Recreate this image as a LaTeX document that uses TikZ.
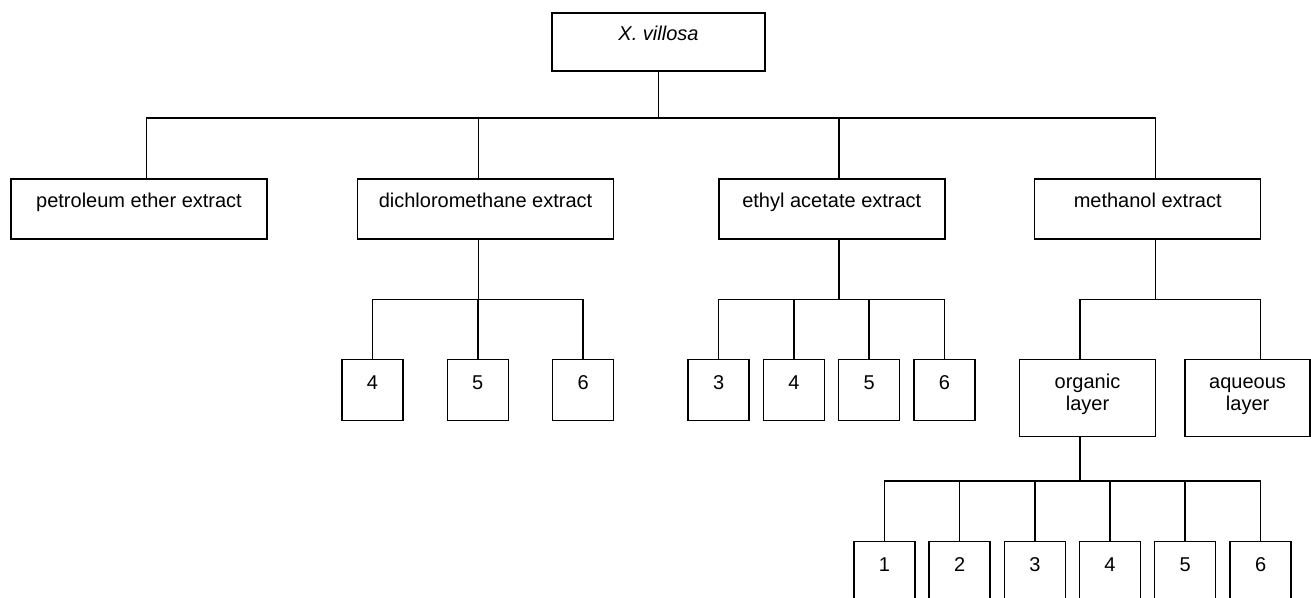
\documentclass[tikz,border=0pt]{standalone}
\usepackage{fontspec}
\setmainfont{Liberation Sans}
\usepackage{tikz}
\usetikzlibrary{positioning}
\tikzset{
    caja/.style={
        draw,
        line width=1.5pt,
        inner sep=0pt,
        minimum width=256pt,
        text height=28.3pt,
        text depth=31.7pt,
        font=\fontsize{20}{22.4}\selectfont
    },
    raizbox/.style={
        caja,
        minimum width=213pt,
        text height=27pt,
        text depth=31pt
    },
    capa/.style={
        caja,
        align=center,
        text height=51.4pt,
        text depth=25.6pt
    },
    fraccion/.style={
        caja,
        minimum width=61pt,
        text height=29.7pt,
        text depth=31.3pt
    },
    rama/.style={
        line width=1.5pt
    }
}

\begin{document}
\begin{tikzpicture}[
    x=1pt,
    y=-1pt
]
    \useasboundingbox (0,0) rectangle (1311,597);
    \clip (0,0) rectangle (1311,597);

    % Planta
    \node[raizbox] (raiz) at (658.5,42) {\textit{X. villosa}};

    % Extractos
    \node[caja]                   (eter) at (139,209)    {petroleum ether extract};
    \node[caja]                   (dcm)  at (485.5,209)  {dichloromethane extract};
    \node[caja, minimum width=226pt] (aet)  at (831.8,209)  {ethyl acetate extract};
    \node[caja, minimum width=226pt] (met)  at (1147.7,209) {methanol extract};

    % Fracciones del extracto de diclorometano
    \node[fraccion] (d4) at (372.5,389.8) {4};
    \node[fraccion] (d5) at (477.8,389.8) {5};
    \node[fraccion] (d6) at (583.2,389.8) {6};

    % Fracciones del extracto de acetato de etilo
    \node[fraccion] (a3) at (718.7,389.8) {3};
    \node[fraccion] (a4) at (794,389.8)   {4};
    \node[fraccion] (a5) at (869.2,389.8) {5};
    \node[fraccion] (a6) at (944.5,389.8) {6};

    % Capas del extracto de metanol
    \node[capa, minimum width=136pt] (org) at (1087.5,397.8) {organic\\layer};
    \node[capa, minimum width=125pt] (acu) at (1247.6,397.8) {aqueous\\layer};

    % Fracciones de la capa organica
    \node[fraccion] (o1) at (884.4,572.2)  {1};
    \node[fraccion] (o2) at (959.7,572.2)  {2};
    \node[fraccion] (o3) at (1035,572.2)   {3};
    \node[fraccion] (o4) at (1110,572.2)   {4};
    \node[fraccion] (o5) at (1185.2,572.2) {5};
    \node[fraccion] (o6) at (1260.7,572.2) {6};

    % Ramas
    \draw[rama] (raiz.south) -- ++(0,46) -| ([xshift=7.7]eter.north);
    \draw[rama] (raiz.south) -- ++(0,46) -| ([xshift=-7.2]dcm.north);
    \draw[rama] (raiz.south) -- ++(0,46) -| ([xshift=7.2]aet.north);
    \draw[rama] (raiz.south) -- ++(0,46) -| ([xshift=7.6]met.north);

    \draw[rama] ([xshift=-7.2]dcm.south) -- ++(0,59.5) -| (d4.north);
    \draw[rama] ([xshift=-7.2]dcm.south) -- ++(0,59.5) -| (d5.north);
    \draw[rama] ([xshift=-7.2]dcm.south) -- ++(0,59.5) -| (d6.north);

    \draw[rama] ([xshift=7.2]aet.south) -- ++(0,59.5) -| (a3.north);
    \draw[rama] ([xshift=7.2]aet.south) -- ++(0,59.5) -| (a4.north);
    \draw[rama] ([xshift=7.2]aet.south) -- ++(0,59.5) -| (a5.north);
    \draw[rama] ([xshift=7.2]aet.south) -- ++(0,59.5) -| (a6.north);

    \draw[rama] ([xshift=7.6]met.south) -- ++(0,59.5) -| ([xshift=-7.5]org.north);
    \draw[rama] ([xshift=7.6]met.south) -- ++(0,59.5) -| ([xshift=12.7]acu.north);

    \draw[rama] ([xshift=-7.5]org.south) -- ++(0,44) -| (o1.north);
    \draw[rama] ([xshift=-7.5]org.south) -- ++(0,44) -| (o2.north);
    \draw[rama] ([xshift=-7.5]org.south) -- ++(0,44) -| (o3.north);
    \draw[rama] ([xshift=-7.5]org.south) -- ++(0,44) -| (o4.north);
    \draw[rama] ([xshift=-7.5]org.south) -- ++(0,44) -| (o5.north);
    \draw[rama] ([xshift=-7.5]org.south) -- ++(0,44) -| (o6.north);

\end{tikzpicture}
\end{document}
